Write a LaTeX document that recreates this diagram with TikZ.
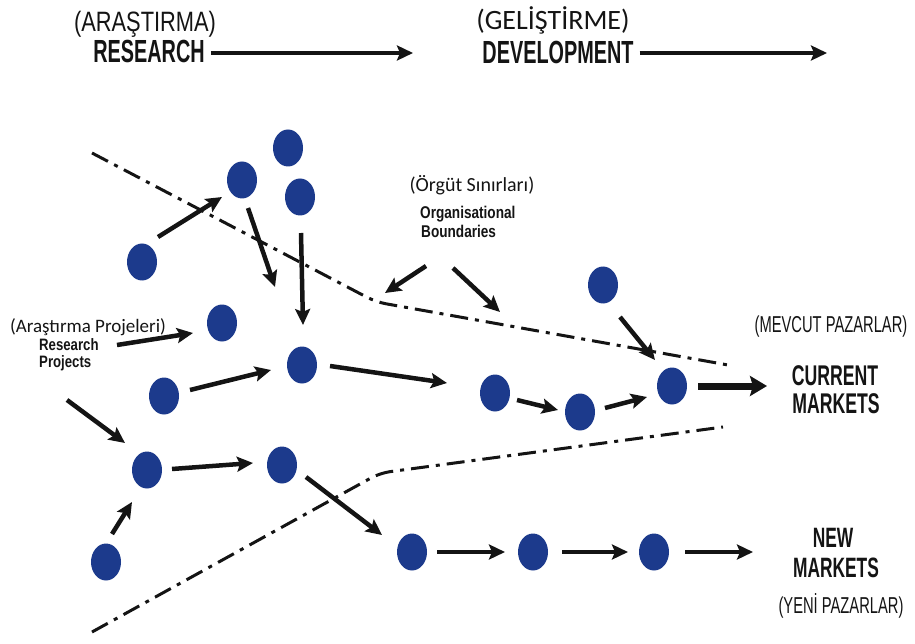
\documentclass[tikz,border=0pt]{standalone}
\usepackage{fontspec}
\setmainfont{Liberation Sans}
\newfontfamily\fHB{Liberation Sans Bold}[FakeStretch=0.62]
\newfontfamily\fHM{Liberation Sans Bold}[FakeStretch=0.8]
\newfontfamily\fHR{Liberation Sans}[FakeStretch=0.78]
\newfontfamily\fHN{Liberation Sans}[FakeStretch=0.64]
\newfontfamily\fCL{Carlito}
\usetikzlibrary{shapes.geometric,arrows.meta}
\definecolor{dotblue}{RGB}{28,58,140}
\definecolor{ink}{RGB}{20,20,20}
\tikzset{
  dot/.style={ellipse,fill=dotblue,draw=none,minimum width=30pt,minimum height=37pt,inner sep=0pt},
  arr/.style={draw=ink,line width=4.5pt,-{Stealth[length=16pt,width=15pt,inset=3pt]}},
  bigarr/.style={draw=ink,line width=7pt,-{Stealth[length=17pt,width=20pt,inset=3pt]}},
  bound/.style={draw=ink,line width=3pt,dash pattern=on 18pt off 7pt on 4pt off 7pt},
  lbl/.style={inner sep=0pt,anchor=base,text=ink},
  lbll/.style={inner sep=0pt,anchor=base west,text=ink},
}
\begin{document}
\begin{tikzpicture}[x=1pt,y=-1pt]
\useasboundingbox (0,0) rectangle (915,644);
% header
\node[lbl,font=\fHR\fontsize{28}{30}\selectfont] (ar) at (145,32) {(ARAŞTIRMA)};
\node[lbl,font=\fHB\fontsize{32}{34}\selectfont] (re) at (149,63) {RESEARCH};
\coordinate (rend) at (413,53);
\draw[arr,shorten <=6pt] (re.east |- rend) -- (rend);
\node[lbl,font=\fCL\fontsize{28}{30}\selectfont] (ge) at (553,30) {(GELİŞTİRME)};
\node[lbl,font=\fHB\fontsize{32}{34}\selectfont] (de) at (558,64) {DEVELOPMENT};
\coordinate (dend) at (827,53);
\draw[arr,shorten <=6pt] (de.east |- dend) -- (dend);
% boundaries
\coordinate (u1) at (92,153); \coordinate (u2) at (376,302); \coordinate (u3) at (728,365);
\coordinate (l1) at (92,632); \coordinate (l2) at (380,473); \coordinate (l3) at (723,427);
\draw[bound,rounded corners=10pt] (u1) -- (u2) -- (u3);
\draw[bound,rounded corners=10pt] (l1) -- (l2) -- (l3);
% dots
\node[dot] (n1) at (142,262) {};
\node[dot] (n2) at (242,180) {};
\node[dot] (n3) at (288,148) {};
\node[dot] (n4) at (300,197) {};
\node[dot] (n5) at (222,323) {};
\node[dot] (n6) at (302,365) {};
\node[dot] (n7) at (164,396) {};
\node[dot] (n8) at (147,470) {};
\node[dot] (n9) at (282,465) {};
\node[dot] (n10) at (106,562) {};
\node[dot] (n11) at (495,393) {};
\node[dot] (n12) at (580,412) {};
\node[dot] (n13) at (672,386) {};
\node[dot] (n14) at (603,285) {};
\node[dot] (n15) at (412,552) {};
\node[dot] (n16) at (533,552) {};
\node[dot] (n17) at (654,552) {};
% labels
\node[lbl,font=\fCL\fontsize{19}{20}\selectfont] (rpt) at (88,332) {(Araştırma Projeleri)};
\node[lbll,font=\fHM\fontsize{16.5}{17}\selectfont] (rp1) at (39,350) {Research};
\node[lbll,font=\fHM\fontsize{16.5}{17}\selectfont] (rp2) at (39,367) {Projects};
\node[lbl,font=\fCL\fontsize{20}{21}\selectfont] (obt) at (472,192) {(Örgüt Sınırları)};
\node[lbll,font=\fHM\fontsize{17}{18}\selectfont] (ob1) at (420,219) {Organisational};
\node[lbll,font=\fHM\fontsize{17}{18}\selectfont] (ob2) at (421,238) {Boundaries};
\node[lbl,font=\fHN\fontsize{23}{24}\selectfont] (mpt) at (831,332) {(MEVCUT PAZARLAR)};
\node[lbl,font=\fHB\fontsize{28.5}{30}\selectfont] (cm1) at (835,385) {CURRENT};
\node[lbl,font=\fHB\fontsize{28.5}{30}\selectfont] (cm2) at (836,413) {MARKETS};
\node[lbl,font=\fHB\fontsize{28}{30}\selectfont] (nm1) at (833,547) {NEW};
\node[lbl,font=\fHB\fontsize{28}{30}\selectfont] (nm2) at (836,577) {MARKETS};
\node[lbl,font=\fHN\fontsize{23}{24}\selectfont] (ypt) at (841,613) {(YENİ PAZARLAR)};
% free ends
\coordinate (a2e) at (275,287);
\coordinate (rps) at (117,345);
\coordinate (f8s) at (67,400);
\coordinate (o1s) at (426,266);
\coordinate (o1e) at (385,293);
\coordinate (o2s) at (453,268);
\coordinate (o2e) at (500,312);
\coordinate (cmE) at (767,386);
\coordinate (n17e) at (753,552);
% arrows
\draw[arr] ([shift={(16,-25)}]n1.center) -- ([shift={(-20,17)}]n2.center);
\draw[arr] ([shift={(6,28)}]n2.center) -- (a2e);
\draw[arr] ([shift={(1,36)}]n4.center) -- ([shift={(1,-40)}]n6.center);
\draw[arr] (rps) -- ([shift={(-29,10)}]n5.center);
\draw[arr] ([shift={(26,-6)}]n7.center) -- ([shift={(-31,5)}]n6.center);
\draw[arr] ([shift={(28,1)}]n6.center) -- ([shift={(-48,-10)}]n11.center);
\draw[arr] ([shift={(22,7)}]n11.center) -- ([shift={(-22,-2)}]n12.center);
\draw[arr] ([shift={(25,-4)}]n12.center) -- ([shift={(-25,11)}]n13.center);
\draw[arr] ([shift={(17,32)}]n14.center) -- ([shift={(-17,-26)}]n13.center);
\draw[bigarr] ([shift={(26,0)}]n13.center) -- (cmE);
\draw[arr] (f8s) -- ([shift={(-22,-27)}]n8.center);
\draw[arr] ([shift={(6,-28)}]n10.center) -- ([shift={(-15,32)}]n8.center);
\draw[arr] ([shift={(25,-1)}]n8.center) -- ([shift={(-29,-2)}]n9.center);
\draw[arr] ([shift={(24,12)}]n9.center) -- ([shift={(-30,-17)}]n15.center);
\draw[arr] ([shift={(25,0)}]n15.center) -- ([shift={(-28,0)}]n16.center);
\draw[arr] ([shift={(29,0)}]n16.center) -- ([shift={(-26,0)}]n17.center);
\draw[arr] ([shift={(31,0)}]n17.center) -- (n17e);
\draw[arr] (o1s) -- (o1e);
\draw[arr] (o2s) -- (o2e);
\end{tikzpicture}
\end{document}
